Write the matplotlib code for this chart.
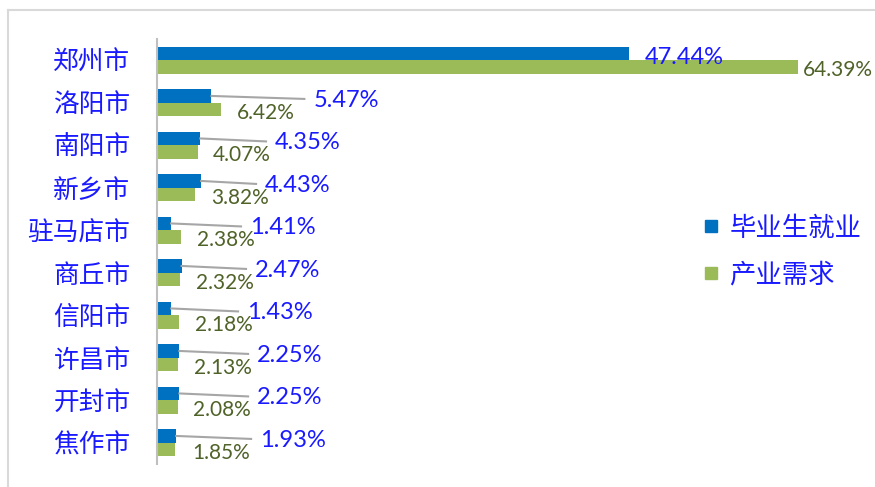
import numpy as np
import matplotlib.pyplot as plt
from matplotlib.lines import Line2D

plt.rcParams['font.family'] = ['Noto Sans CJK SC', 'DejaVu Sans']

cities = ['郑州市', '洛阳市', '南阳市', '新乡市', '驻马店市',
          '商丘市', '信阳市', '许昌市', '开封市', '焦作市']
graduates = [47.44, 5.47, 4.35, 4.43, 1.41, 2.47, 1.43, 2.25, 2.25, 1.93]
industry = [64.39, 6.42, 4.07, 3.82, 2.38, 2.32, 2.18, 2.13, 2.08, 1.85]

# where excel dragged the labels (left edge, in % units)
grad_label_x = [49.0, 15.7, 11.85, 10.85, 9.34, 9.84, 9.04, 10.05, 10.05, 10.35]
ind_label_x = [64.9, 8.04, 5.63, 5.42, 4.02, 3.92, 3.82, 3.72, 3.62, 3.52]

blue = '#0070C0'
green = '#9BBB59'
txt_blue = '#1A1AFF'
txt_green = '#4F6228'
num_font = ['Lato', 'DejaVu Sans']

fig = plt.figure(figsize=(8.75, 4.87), dpi=100)
ax = fig.add_axes([157 / 875, 1 - 464 / 487, (854 - 157) / 875, 425 / 487])

y = np.arange(len(cities))
h = 0.32
ax.barh(y - h / 2, graduates, height=h, color=blue, label='毕业生就业')
ax.barh(y + h / 2, industry, height=h, color=green, label='产业需求')

for i in range(len(cities)):
    gy = i - h / 2 + 0.1
    ax.text(grad_label_x[i], gy, f'{graduates[i]:.2f}%', color=txt_blue,
            fontsize=17, family=num_font, va='center', ha='left')
    if i > 0:
        ax.plot([graduates[i], grad_label_x[i] - 0.9], [i - h / 2, gy - 0.03],
                color='#A6A6A6', lw=1.5, zorder=1)
    ax.text(ind_label_x[i], i + h / 2 + 0.08, f'{industry[i]:.2f}%', color=txt_green,
            fontsize=15, family=num_font, va='center', ha='left')

ax.set_xlim(0, 70)
ax.set_ylim(len(cities) - 0.5, -0.5)
ax.set_yticks(y)
ax.set_yticklabels(cities, fontsize=18.5, color=txt_blue)
ax.tick_params(axis='y', length=0, pad=19)
ax.set_xticks([])
for s in ['top', 'right', 'bottom']:
    ax.spines[s].set_visible(False)
ax.spines['left'].set_color('#BFBFBF')
ax.spines['left'].set_linewidth(1.5)

handles = [Line2D([], [], marker='s', ls='none', color=blue, markersize=9),
           Line2D([], [], marker='s', ls='none', color=green, markersize=9)]
leg = fig.legend(handles, ['毕业生就业', '产业需求'], loc='upper left',
                 bbox_to_anchor=(687 / 875, 1 - 204 / 487), frameon=False,
                 fontsize=19, labelspacing=0.75, handletextpad=0.2, handlelength=1.0,
                 borderaxespad=0)
for t in leg.get_texts():
    t.set_color(txt_blue)

# outer chart frame
fig.add_artist(Line2D([8 / 875, 1], [1 - 10 / 487] * 2, color='#D9D9D9', lw=1.5))
fig.add_artist(Line2D([8 / 875] * 2, [0, 1 - 10 / 487], color='#D9D9D9', lw=1.5))

fig.savefig('out.png', dpi=100)
